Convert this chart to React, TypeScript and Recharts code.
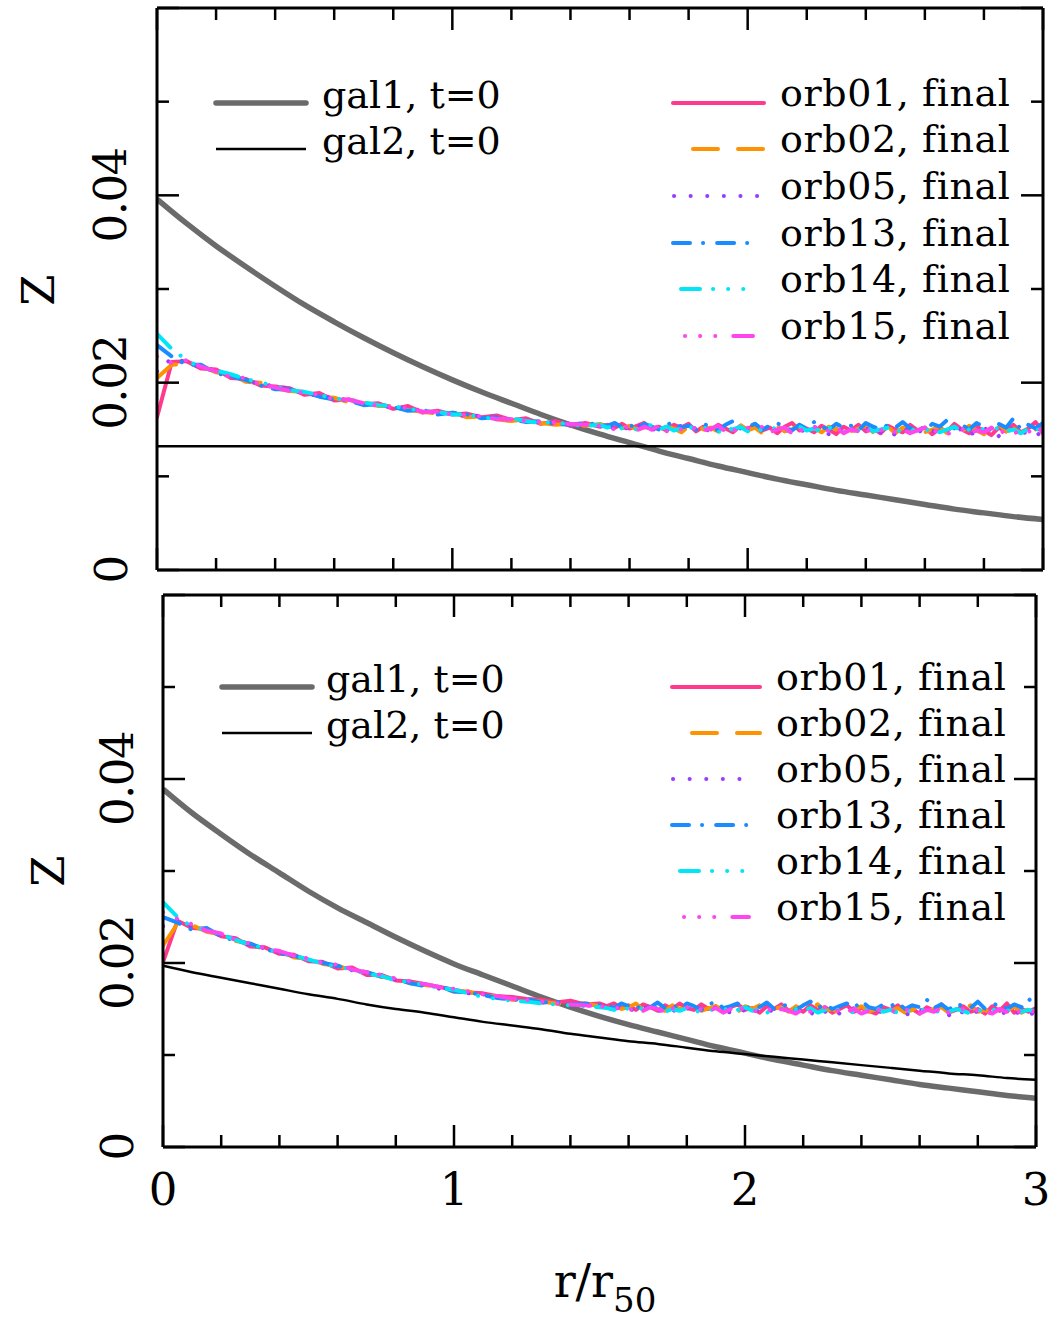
import React from "react";
import { LineChart, Line, XAxis, YAxis, Legend } from "recharts";

// radial bins for the orbit profiles (r / r50); finer bins past r = 1.5
const radius = [
  0, 0.05, 0.1, 0.15, 0.2, 0.25, 0.3, 0.35, 0.4, 0.45,
  0.5, 0.55, 0.6, 0.65, 0.7, 0.75, 0.8, 0.85, 0.9, 0.95,
  1, 1.05, 1.1, 1.15, 1.2, 1.25, 1.3, 1.35, 1.4, 1.45, 1.5,
  1.525, 1.55, 1.575, 1.6, 1.625, 1.65, 1.675, 1.7, 1.725, 1.75,
  1.775, 1.8, 1.825, 1.85, 1.875, 1.9, 1.925, 1.95, 1.975, 2,
  2.025, 2.05, 2.075, 2.1, 2.125, 2.15, 2.175, 2.2, 2.225, 2.25,
  2.275, 2.3, 2.325, 2.35, 2.375, 2.4, 2.425, 2.45, 2.475, 2.5,
  2.525, 2.55, 2.575, 2.6, 2.625, 2.65, 2.675, 2.7, 2.725, 2.75,
  2.775, 2.8, 2.825, 2.85, 2.875, 2.9, 2.925, 2.95, 2.975, 3,
];

const galRadius = [
  0, 0.1, 0.2, 0.3, 0.4, 0.5, 0.6, 0.7, 0.8, 0.9, 1, 1.1, 1.2, 1.3, 1.4, 1.5,
  1.6, 1.7, 1.8, 1.9, 2, 2.1, 2.2, 2.3, 2.4, 2.5, 2.6, 2.7, 2.8, 2.9, 3,
];

// top panel
const gal1Top = [
  0.0396, 0.0370, 0.0346, 0.0324, 0.0303, 0.0283, 0.0265, 0.0248, 0.0232, 0.0217,
  0.0203, 0.0190, 0.0178, 0.0166, 0.0155, 0.0145, 0.0136, 0.0127, 0.0119, 0.0111,
  0.0104, 0.0097, 0.0091, 0.0085, 0.0080, 0.0075, 0.0070, 0.0065, 0.0061, 0.0057, 0.0054,
];
const gal2TopR = [0, 3];
const gal2Top = [0.0132, 0.0132];

const orb01Top = [
  0.0163, 0.0222, 0.0223, 0.0215, 0.0214, 0.0205, 0.0204, 0.0197, 0.0196, 0.0194,
  0.0187, 0.0189, 0.0181, 0.0182, 0.0177, 0.0178, 0.0172, 0.0175, 0.0168, 0.0170,
  0.0166, 0.0167, 0.0163, 0.0165, 0.0160, 0.0162, 0.0156, 0.0159, 0.0154, 0.0157, 0.0153,
  0.0155, 0.0152, 0.0156, 0.0151, 0.0154, 0.0157, 0.0150, 0.0153, 0.0149, 0.0155,
  0.0152, 0.0156, 0.0148, 0.0153, 0.0150, 0.0155, 0.0151, 0.0147, 0.0154, 0.0150,
  0.0156, 0.0149, 0.0152, 0.0146, 0.0153, 0.0157, 0.0149, 0.0151, 0.0147, 0.0154,
  0.0150, 0.0145, 0.0153, 0.0149, 0.0155, 0.0148, 0.0151, 0.0146, 0.0154, 0.0150,
  0.0147, 0.0155, 0.0149, 0.0152, 0.0145, 0.0151, 0.0148, 0.0156, 0.0150, 0.0146,
  0.0153, 0.0149, 0.0144, 0.0152, 0.0148, 0.0155, 0.0147, 0.0151, 0.0158, 0.0146,
];
const orb02Top = [
  0.0205, 0.0219, 0.0220, 0.0218, 0.0211, 0.0209, 0.0201, 0.0200, 0.0194, 0.0191,
  0.0190, 0.0185, 0.0184, 0.0179, 0.0179, 0.0175, 0.0175, 0.0171, 0.0169, 0.0167,
  0.0168, 0.0163, 0.0164, 0.0161, 0.0159, 0.0161, 0.0157, 0.0155, 0.0156, 0.0154, 0.0156,
  0.0153, 0.0156, 0.0151, 0.0154, 0.0150, 0.0152, 0.0155, 0.0149, 0.0153, 0.0151,
  0.0147, 0.0153, 0.0156, 0.0150, 0.0152, 0.0148, 0.0154, 0.0151, 0.0155, 0.0149,
  0.0152, 0.0146, 0.0151, 0.0154, 0.0148, 0.0150, 0.0155, 0.0149, 0.0152, 0.0147,
  0.0153, 0.0150, 0.0156, 0.0148, 0.0151, 0.0154, 0.0147, 0.0150, 0.0153, 0.0146,
  0.0152, 0.0149, 0.0155, 0.0147, 0.0150, 0.0153, 0.0146, 0.0151, 0.0148, 0.0154,
  0.0149, 0.0145, 0.0152, 0.0156, 0.0148, 0.0151, 0.0146, 0.0154, 0.0150, 0.0155,
];
const orb05Top = [
  0.0212, 0.0226, 0.0222, 0.0216, 0.0213, 0.0208, 0.0202, 0.0199, 0.0196, 0.0193,
  0.0188, 0.0186, 0.0184, 0.0181, 0.0177, 0.0177, 0.0173, 0.0173, 0.0170, 0.0168,
  0.0167, 0.0164, 0.0165, 0.0162, 0.0160, 0.0159, 0.0158, 0.0156, 0.0157, 0.0155, 0.0154,
  0.0154, 0.0151, 0.0153, 0.0150, 0.0155, 0.0152, 0.0149, 0.0153, 0.0151, 0.0148,
  0.0154, 0.0150, 0.0152, 0.0147, 0.0151, 0.0154, 0.0149, 0.0152, 0.0146, 0.0150,
  0.0153, 0.0148, 0.0151, 0.0149, 0.0146, 0.0152, 0.0150, 0.0147, 0.0153, 0.0149,
  0.0145, 0.0151, 0.0148, 0.0152, 0.0146, 0.0150, 0.0153, 0.0147, 0.0149, 0.0144,
  0.0151, 0.0148, 0.0146, 0.0152, 0.0149, 0.0145, 0.0150, 0.0147, 0.0151, 0.0144,
  0.0148, 0.0152, 0.0146, 0.0143, 0.0149, 0.0151, 0.0145, 0.0148, 0.0144, 0.0147,
];
const orb13Top = [
  0.0240, 0.0228, 0.0219, 0.0219, 0.0210, 0.0207, 0.0203, 0.0197, 0.0193, 0.0193,
  0.0190, 0.0185, 0.0182, 0.0181, 0.0176, 0.0177, 0.0174, 0.0170, 0.0171, 0.0166,
  0.0168, 0.0166, 0.0162, 0.0163, 0.0161, 0.0158, 0.0159, 0.0156, 0.0155, 0.0157, 0.0155,
  0.0154, 0.0157, 0.0152, 0.0155, 0.0151, 0.0156, 0.0153, 0.0150, 0.0155, 0.0158,
  0.0152, 0.0154, 0.0150, 0.0156, 0.0153, 0.0149, 0.0155, 0.0159, 0.0151, 0.0153,
  0.0156, 0.0150, 0.0154, 0.0157, 0.0152, 0.0149, 0.0155, 0.0151, 0.0158, 0.0153,
  0.0150, 0.0156, 0.0152, 0.0154, 0.0149, 0.0157, 0.0153, 0.0150, 0.0155, 0.0152,
  0.0158, 0.0151, 0.0154, 0.0149, 0.0156, 0.0153, 0.0160, 0.0151, 0.0155, 0.0150,
  0.0157, 0.0153, 0.0149, 0.0156, 0.0152, 0.0162, 0.0150, 0.0155, 0.0151, 0.0157,
];
const orb14Top = [
  0.0252, 0.0236, 0.0224, 0.0216, 0.0213, 0.0209, 0.0204, 0.0200, 0.0197, 0.0192,
  0.0190, 0.0187, 0.0183, 0.0182, 0.0179, 0.0176, 0.0175, 0.0172, 0.0170, 0.0169,
  0.0166, 0.0166, 0.0163, 0.0161, 0.0162, 0.0159, 0.0157, 0.0158, 0.0155, 0.0154, 0.0155,
  0.0152, 0.0154, 0.0151, 0.0153, 0.0150, 0.0152, 0.0155, 0.0150, 0.0153, 0.0149,
  0.0151, 0.0154, 0.0149, 0.0152, 0.0150, 0.0147, 0.0152, 0.0150, 0.0153, 0.0148,
  0.0151, 0.0149, 0.0153, 0.0150, 0.0147, 0.0151, 0.0153, 0.0149, 0.0151, 0.0148,
  0.0152, 0.0150, 0.0147, 0.0151, 0.0149, 0.0153, 0.0148, 0.0150, 0.0152, 0.0147,
  0.0150, 0.0148, 0.0152, 0.0149, 0.0151, 0.0147, 0.0150, 0.0153, 0.0148, 0.0150,
  0.0147, 0.0151, 0.0149, 0.0152, 0.0148, 0.0150, 0.0146, 0.0151, 0.0149, 0.0152,
];
const orb15Top = [
  0.0228, 0.0221, 0.0224, 0.0217, 0.0212, 0.0206, 0.0205, 0.0198, 0.0195, 0.0191,
  0.0189, 0.0187, 0.0182, 0.0182, 0.0178, 0.0175, 0.0174, 0.0173, 0.0169, 0.0169,
  0.0166, 0.0165, 0.0164, 0.0161, 0.0161, 0.0159, 0.0158, 0.0157, 0.0156, 0.0155, 0.0154,
  0.0153, 0.0150, 0.0155, 0.0151, 0.0149, 0.0153, 0.0150, 0.0154, 0.0148, 0.0152,
  0.0150, 0.0147, 0.0153, 0.0149, 0.0151, 0.0154, 0.0148, 0.0150, 0.0147, 0.0152,
  0.0149, 0.0153, 0.0147, 0.0150, 0.0152, 0.0146, 0.0150, 0.0148, 0.0153, 0.0147,
  0.0149, 0.0152, 0.0146, 0.0150, 0.0148, 0.0151, 0.0145, 0.0149, 0.0152, 0.0147,
  0.0150, 0.0146, 0.0149, 0.0152, 0.0147, 0.0150, 0.0145, 0.0148, 0.0151, 0.0146,
  0.0149, 0.0147, 0.0152, 0.0146, 0.0149, 0.0145, 0.0150, 0.0147, 0.0153, 0.0148,
];

// bottom panel
const gal1Bot = [
  0.0389, 0.0363, 0.0340, 0.0318, 0.0298, 0.0278, 0.0260, 0.0244, 0.0228, 0.0213,
  0.0199, 0.0187, 0.0175, 0.0163, 0.0152, 0.0142, 0.0133, 0.0125, 0.0117, 0.0109,
  0.0102, 0.0095, 0.0089, 0.0083, 0.0078, 0.0073, 0.0068, 0.0064, 0.0060, 0.0056, 0.0053,
];
const gal2Bot = [
  0.0197, 0.0190, 0.0184, 0.0178, 0.0172, 0.0166, 0.0161, 0.0155, 0.0150, 0.0146,
  0.0141, 0.0136, 0.0132, 0.0128, 0.0123, 0.0119, 0.0115, 0.0112, 0.0108, 0.0104,
  0.0101, 0.0098, 0.0095, 0.0092, 0.0089, 0.0086, 0.0083, 0.0080, 0.0078, 0.0075, 0.0073,
];

const orb01Bot = [
  0.0201, 0.0246, 0.0238, 0.0237, 0.0229, 0.0227, 0.0218, 0.0217, 0.0210, 0.0209,
  0.0202, 0.0201, 0.0194, 0.0195, 0.0187, 0.0187, 0.0181, 0.0180, 0.0177, 0.0174,
  0.0171, 0.0168, 0.0167, 0.0164, 0.0163, 0.0161, 0.0160, 0.0157, 0.0159, 0.0155, 0.0156,
  0.0153, 0.0156, 0.0151, 0.0154, 0.0149, 0.0155, 0.0152, 0.0148, 0.0154, 0.0150,
  0.0156, 0.0151, 0.0149, 0.0155, 0.0150, 0.0153, 0.0147, 0.0152, 0.0155, 0.0149,
  0.0151, 0.0146, 0.0153, 0.0150, 0.0155, 0.0148, 0.0151, 0.0147, 0.0154, 0.0149,
  0.0152, 0.0146, 0.0150, 0.0154, 0.0147, 0.0151, 0.0148, 0.0145, 0.0152, 0.0149,
  0.0154, 0.0147, 0.0150, 0.0145, 0.0152, 0.0148, 0.0155, 0.0146, 0.0149, 0.0153,
  0.0147, 0.0150, 0.0145, 0.0153, 0.0148, 0.0156, 0.0146, 0.0150, 0.0147, 0.0151,
];
const orb02Bot = [
  0.0219, 0.0243, 0.0241, 0.0234, 0.0231, 0.0224, 0.0221, 0.0214, 0.0213, 0.0206,
  0.0205, 0.0199, 0.0197, 0.0192, 0.0190, 0.0185, 0.0183, 0.0178, 0.0176, 0.0174,
  0.0169, 0.0169, 0.0164, 0.0164, 0.0160, 0.0159, 0.0158, 0.0156, 0.0155, 0.0156, 0.0153,
  0.0151, 0.0154, 0.0150, 0.0152, 0.0156, 0.0149, 0.0153, 0.0151, 0.0148, 0.0154,
  0.0150, 0.0152, 0.0155, 0.0148, 0.0151, 0.0153, 0.0149, 0.0151, 0.0147, 0.0153,
  0.0150, 0.0154, 0.0148, 0.0150, 0.0152, 0.0147, 0.0153, 0.0149, 0.0151, 0.0155,
  0.0148, 0.0150, 0.0146, 0.0152, 0.0149, 0.0153, 0.0147, 0.0150, 0.0154, 0.0148,
  0.0151, 0.0146, 0.0149, 0.0153, 0.0147, 0.0150, 0.0152, 0.0146, 0.0151, 0.0148,
  0.0154, 0.0147, 0.0149, 0.0145, 0.0151, 0.0148, 0.0153, 0.0146, 0.0150, 0.0154,
];
const orb05Bot = [
  0.0240, 0.0247, 0.0240, 0.0235, 0.0230, 0.0226, 0.0219, 0.0216, 0.0212, 0.0207,
  0.0204, 0.0201, 0.0196, 0.0193, 0.0189, 0.0186, 0.0182, 0.0179, 0.0177, 0.0172,
  0.0170, 0.0167, 0.0166, 0.0162, 0.0161, 0.0159, 0.0157, 0.0157, 0.0155, 0.0154, 0.0153,
  0.0152, 0.0149, 0.0153, 0.0150, 0.0148, 0.0152, 0.0150, 0.0147, 0.0151, 0.0149,
  0.0146, 0.0151, 0.0148, 0.0150, 0.0147, 0.0152, 0.0149, 0.0146, 0.0150, 0.0148,
  0.0145, 0.0150, 0.0147, 0.0149, 0.0152, 0.0146, 0.0149, 0.0147, 0.0144, 0.0150,
  0.0147, 0.0149, 0.0145, 0.0148, 0.0151, 0.0146, 0.0148, 0.0144, 0.0149, 0.0146,
  0.0148, 0.0143, 0.0147, 0.0150, 0.0145, 0.0148, 0.0146, 0.0143, 0.0149, 0.0146,
  0.0144, 0.0148, 0.0145, 0.0147, 0.0143, 0.0148, 0.0145, 0.0147, 0.0144, 0.0146,
];
const orb13Bot = [
  0.0250, 0.0244, 0.0236, 0.0238, 0.0229, 0.0224, 0.0221, 0.0215, 0.0211, 0.0208,
  0.0203, 0.0200, 0.0197, 0.0192, 0.0190, 0.0185, 0.0183, 0.0178, 0.0175, 0.0175,
  0.0169, 0.0168, 0.0165, 0.0162, 0.0160, 0.0161, 0.0157, 0.0158, 0.0155, 0.0156, 0.0154,
  0.0154, 0.0151, 0.0156, 0.0153, 0.0150, 0.0155, 0.0152, 0.0157, 0.0151, 0.0154,
  0.0150, 0.0156, 0.0153, 0.0149, 0.0155, 0.0158, 0.0151, 0.0153, 0.0156, 0.0150,
  0.0154, 0.0152, 0.0157, 0.0150, 0.0153, 0.0155, 0.0149, 0.0154, 0.0158, 0.0151,
  0.0155, 0.0150, 0.0153, 0.0156, 0.0151, 0.0159, 0.0152, 0.0150, 0.0155, 0.0153,
  0.0157, 0.0150, 0.0154, 0.0152, 0.0160, 0.0151, 0.0155, 0.0149, 0.0156, 0.0153,
  0.0151, 0.0158, 0.0150, 0.0154, 0.0156, 0.0150, 0.0155, 0.0152, 0.0161, 0.0153,
];
const orb14Bot = [
  0.0266, 0.0250, 0.0239, 0.0236, 0.0231, 0.0225, 0.0220, 0.0216, 0.0211, 0.0208,
  0.0204, 0.0199, 0.0196, 0.0193, 0.0188, 0.0186, 0.0181, 0.0179, 0.0176, 0.0173,
  0.0171, 0.0167, 0.0163, 0.0161, 0.0159, 0.0158, 0.0156, 0.0155, 0.0154, 0.0153, 0.0152,
  0.0151, 0.0149, 0.0152, 0.0150, 0.0148, 0.0151, 0.0149, 0.0152, 0.0147, 0.0150,
  0.0148, 0.0151, 0.0149, 0.0146, 0.0150, 0.0148, 0.0151, 0.0147, 0.0149, 0.0152,
  0.0148, 0.0150, 0.0146, 0.0149, 0.0151, 0.0147, 0.0150, 0.0148, 0.0151, 0.0146,
  0.0149, 0.0147, 0.0150, 0.0148, 0.0146, 0.0150, 0.0148, 0.0151, 0.0147, 0.0149,
  0.0146, 0.0149, 0.0147, 0.0150, 0.0148, 0.0146, 0.0149, 0.0147, 0.0150, 0.0148,
  0.0145, 0.0149, 0.0147, 0.0150, 0.0146, 0.0148, 0.0150, 0.0147, 0.0149, 0.0147,
];
const orb15Bot = [
  0.0255, 0.0248, 0.0242, 0.0235, 0.0232, 0.0225, 0.0221, 0.0216, 0.0213, 0.0208,
  0.0205, 0.0200, 0.0198, 0.0193, 0.0190, 0.0187, 0.0183, 0.0180, 0.0177, 0.0174,
  0.0172, 0.0169, 0.0166, 0.0164, 0.0161, 0.0160, 0.0158, 0.0156, 0.0155, 0.0154, 0.0153,
  0.0152, 0.0150, 0.0153, 0.0149, 0.0151, 0.0148, 0.0152, 0.0150, 0.0147, 0.0151,
  0.0149, 0.0152, 0.0147, 0.0150, 0.0148, 0.0151, 0.0146, 0.0150, 0.0148, 0.0152,
  0.0147, 0.0149, 0.0151, 0.0146, 0.0150, 0.0148, 0.0145, 0.0150, 0.0147, 0.0149,
  0.0152, 0.0146, 0.0149, 0.0147, 0.0150, 0.0145, 0.0148, 0.0151, 0.0147, 0.0149,
  0.0146, 0.0150, 0.0147, 0.0145, 0.0149, 0.0147, 0.0151, 0.0146, 0.0148, 0.0150,
  0.0146, 0.0149, 0.0147, 0.0145, 0.0150, 0.0147, 0.0149, 0.0146, 0.0148, 0.0147,
];

const xTicks = [0, 0.2, 0.4, 0.6, 0.8, 1, 1.2, 1.4, 1.6, 1.8, 2, 2.2, 2.4, 2.6, 2.8, 3];
const yTicks = [0, 0.01, 0.02, 0.03, 0.04, 0.05, 0.06];
const yLabels = [0, 0.02, 0.04];
const xLabels = [0, 1, 2, 3];

const FONT = "'DejaVu Serif', serif";

// leg: trim of the legend sample at its start / end
const orbStyles = [
  { key: "orb01", label: "orb01, final", color: "#ff3a8c", dash: undefined, legDash: undefined, leg: [0, 0] },
  { key: "orb02", label: "orb02, final", color: "#ff9200", dash: "24 20", legDash: "25 20", leg: [20, 0] },
  { key: "orb05", label: "orb05, final", color: "#9a3cff", dash: "0.1 15", legDash: "0.1 16.5", leg: [1, -5] },
  { key: "orb13", label: "orb13, final", color: "#1a8cff", dash: "18 12 0.1 12", legDash: "17 13 0.1 14", leg: [0, -10] },
  { key: "orb14", label: "orb14, final", color: "#00e6f6", dash: "19 13 0.1 15 0.1 15 0.1 13", legDash: "19 13 0.1 15 0.1 15 0.1 40", leg: [8, 0] },
  { key: "orb15", label: "orb15, final", color: "#ff46ee", dash: "0.1 15 0.1 15 0.1 13 20 12", legDash: "0.1 15 0.1 15 0.1 18 20 40", leg: [12, -11] },
];

const buildRows = (series: number[][]) =>
  radius.map((r, i) => {
    const row: Record<string, number> = { r };
    orbStyles.forEach((s, j) => {
      row[s.key] = series[j][i];
    });
    return row;
  });

const toRows = (xs: number[], ys: number[]) => xs.map((r, i) => ({ r, z: ys[i] }));

const topRows = buildRows([orb01Top, orb02Top, orb05Top, orb13Top, orb14Top, orb15Top]);
const botRows = buildRows([orb01Bot, orb02Bot, orb05Bot, orb13Bot, orb14Bot, orb15Bot]);

// ticks point inwards on all four sides; labels only on left / bottom
const makeTick = (side: string, withLabels: boolean) => (props: any) => {
  const { x, y, payload } = props;
  const v = payload.value;
  const horiz = side === "top" || side === "bottom";
  const major = horiz ? xLabels.includes(v) : yLabels.includes(v) || v === 0.06;
  const len = major ? 22 : 12;
  let x2 = x;
  let y2 = y;
  if (side === "bottom") y2 = y - len;
  if (side === "top") y2 = y + len;
  if (side === "left") x2 = x + len;
  if (side === "right") x2 = x - len;
  let label = null;
  if (withLabels && side === "bottom" && xLabels.includes(v)) {
    label = (
      <text x={x} y={y + 42} textAnchor="middle" dominantBaseline="central"
        fontFamily={FONT} fontSize={45} fill="#000">
        {String(v)}
      </text>
    );
  }
  if (withLabels && side === "left" && yLabels.includes(v)) {
    const lx = x - 46;
    label = (
      <text x={lx} y={y} transform={`rotate(-90 ${lx} ${y})`} textAnchor="middle"
        dominantBaseline="central" fontFamily={FONT} fontSize={45} letterSpacing={-1.5} fill="#000">
        {v === 0 ? "0" : v.toFixed(2)}
      </text>
    );
  }
  return (
    <g>
      <line x1={x} y1={y} x2={x2} y2={y2} stroke="#000" strokeWidth={2.5} />
      {label}
    </g>
  );
};

type LegendLayout = {
  galX: [number, number];
  galTextX: number;
  galY: number[];
  orbX: [number, number];
  orbTextX: number;
  orbY: number[];
  zLabel: [number, number];
  xLabel?: [number, number];
  height: number;
};

const PanelOverlay = ({ lay }: { lay: LegendLayout }) => (
  <svg width={1058} height={lay.height} style={{ overflow: "visible", display: "block" }}>
    <line x1={lay.galX[0]} x2={lay.galX[1]} y1={lay.galY[0]} y2={lay.galY[0]}
      stroke="#6b6b6b" strokeWidth={5.5} strokeLinecap="round" />
    <text x={lay.galTextX} y={lay.galY[0] + 5} fontFamily={FONT} fontSize={38} fill="#000">gal1, t=0</text>
    <line x1={lay.galX[0]} x2={lay.galX[1]} y1={lay.galY[1]} y2={lay.galY[1]}
      stroke="#000" strokeWidth={2.5} />
    <text x={lay.galTextX} y={lay.galY[1] + 5} fontFamily={FONT} fontSize={38} fill="#000">gal2, t=0</text>
    {orbStyles.map((s, i) => (
      <g key={s.key}>
        <line x1={lay.orbX[0] + s.leg[0]} x2={lay.orbX[1] + s.leg[1]} y1={lay.orbY[i]} y2={lay.orbY[i]}
          stroke={s.color} strokeWidth={4} strokeLinecap="round" strokeDasharray={s.legDash} />
        <text x={lay.orbTextX} y={lay.orbY[i] + 3} fontFamily={FONT} fontSize={38} letterSpacing={0.6} fill="#000">
          {s.label}
        </text>
      </g>
    ))}
    <text x={lay.zLabel[0]} y={lay.zLabel[1]} transform={`rotate(-90 ${lay.zLabel[0]} ${lay.zLabel[1]})`}
      textAnchor="middle" dominantBaseline="central" fontFamily={FONT} fontSize={45} fill="#000">Z</text>
    {lay.xLabel && (
      <text x={lay.xLabel[0]} y={lay.xLabel[1]} textAnchor="middle" fontFamily={FONT} fontSize={46} fill="#000">
        r/r<tspan fontSize={34} dy={15}>50</tspan>
      </text>
    )}
  </svg>
);

const topLayout: LegendLayout = {
  galX: [216, 306], galTextX: 322, galY: [103, 149],
  orbX: [673, 764], orbTextX: 780, orbY: [103, 149, 196, 243, 289, 336],
  zLabel: [38, 290], height: 590,
};
const botLayout: LegendLayout = {
  galX: [222, 312], galTextX: 326, galY: [97, 143],
  orbX: [672, 760], orbTextX: 776, orbY: [97, 143, 189, 235, 281, 327],
  zLabel: [48, 281], xLabel: [605, 707], height: 729,
};

const axisLine = { stroke: "#000", strokeWidth: 3 };

// axes are 1px wide/high: Recharts skips drawing an axis of size 0
const Panel = ({ rows, gal1, gal2, gal2R, width, height, margin, lay, xText }: any) => (
  <LineChart width={width} height={height} data={rows} margin={margin}>
    <XAxis xAxisId="b" dataKey="r" type="number" domain={[0, 3]} ticks={xTicks} orientation="bottom"
      height={1} tickSize={0} tickMargin={0} tickLine={false} axisLine={axisLine}
      tick={makeTick("bottom", xText)} allowDataOverflow interval={0} />
    <XAxis xAxisId="t" dataKey="r" type="number" domain={[0, 3]} ticks={xTicks} orientation="top"
      height={1} tickSize={0} tickMargin={0} tickLine={false} axisLine={axisLine}
      tick={makeTick("top", false)} allowDataOverflow interval={0} />
    <YAxis yAxisId="l" type="number" domain={[0, 0.06]} ticks={yTicks} orientation="left"
      width={1} tickSize={0} tickMargin={0} tickLine={false} axisLine={axisLine}
      tick={makeTick("left", true)} allowDataOverflow interval={0} />
    <YAxis yAxisId="r" type="number" domain={[0, 0.06]} ticks={yTicks} orientation="right"
      width={1} tickSize={0} tickMargin={0} tickLine={false} axisLine={axisLine}
      tick={makeTick("right", false)} allowDataOverflow interval={0} />
    <Legend layout="horizontal" verticalAlign="middle" align="center"
      wrapperStyle={{ left: 0, top: 0, width: 1058, height, margin: 0 }}
      content={() => <PanelOverlay lay={lay} />} />
    <Line xAxisId="b" yAxisId="l" data={toRows(galRadius, gal1)} dataKey="z" type="monotone"
      stroke="#6b6b6b" strokeWidth={5.5} dot={false} isAnimationActive={false} legendType="none" />
    <Line xAxisId="b" yAxisId="l" data={toRows(gal2R, gal2)} dataKey="z" type="monotone"
      stroke="#000" strokeWidth={2.5} dot={false} isAnimationActive={false} legendType="none" />
    {orbStyles.map((s) => (
      <Line key={s.key} xAxisId="b" yAxisId="l" dataKey={s.key} stroke={s.color} strokeWidth={4}
        strokeDasharray={s.dash} strokeLinecap="round" strokeLinejoin="round" dot={false}
        isAnimationActive={false} legendType="none" />
    ))}
  </LineChart>
);

export default function App() {
  return (
    <div style={{ position: "absolute", left: 0, top: 0, width: 1058, height: 1319, background: "#fff" }}>
      <div style={{ position: "absolute", left: 0, top: 0 }}>
        <Panel rows={topRows} gal1={gal1Top} gal2={gal2Top} gal2R={gal2TopR} width={1058} height={590}
          margin={{ top: 7, left: 156, right: 14, bottom: 19 }} lay={topLayout} xText={false} />
      </div>
      <div style={{ position: "absolute", left: 0, top: 590 }}>
        <Panel rows={botRows} gal1={gal1Bot} gal2={gal2Bot} gal2R={galRadius} width={1058} height={729}
          margin={{ top: 4, left: 162, right: 21, bottom: 171 }} lay={botLayout} xText={true} />
      </div>
    </div>
  );
}
